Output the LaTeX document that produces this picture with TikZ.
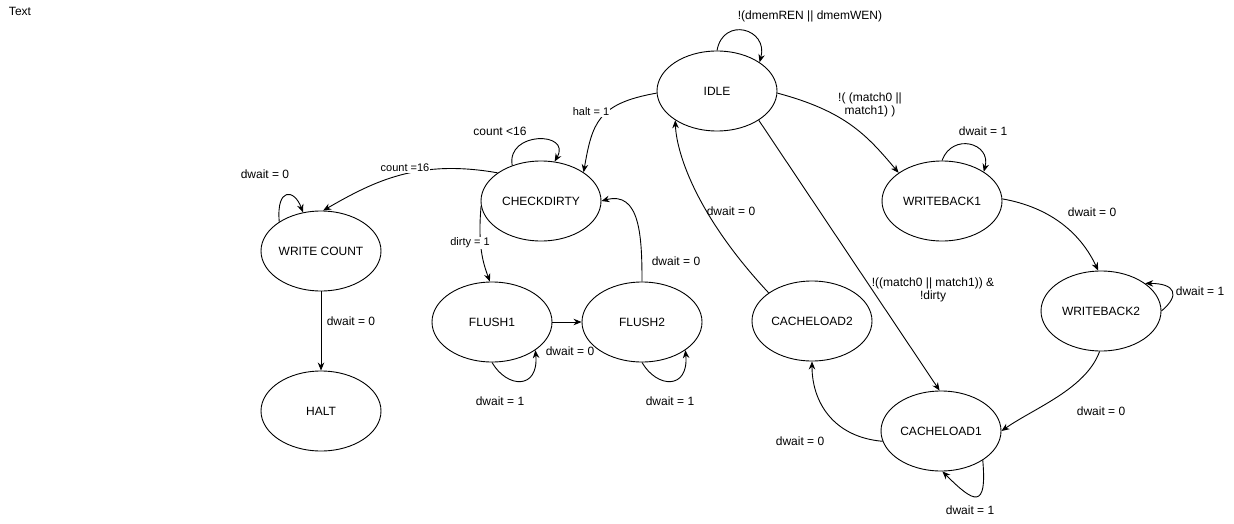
\documentclass[tikz,border=0pt]{standalone}
\usepackage{fontspec}
\setmainfont{Liberation Sans}
\usetikzlibrary{shapes.geometric,arrows.meta}

\tikzset{
    state/.style={draw, ellipse, minimum width=120pt, minimum height=80pt, inner sep=0pt, font=\fontsize{12}{14}\selectfont},
    lbl/.style={inner sep=1pt, font=\fontsize{12}{13.5}\selectfont, align=center},
    lblsmall/.style={inner sep=1pt, font=\fontsize{11}{13}\selectfont, fill=white},
}

\begin{document}
\begin{tikzpicture}[x=1pt, y=-1pt, line width=0.9pt, >={Stealth[length=8pt,width=6.5pt]}]
        \useasboundingbox (0,0) rectangle (1234,524);

        \node[lbl] (title) at (20,11) {Text};

        \node[state] (idle) at (717,91) {IDLE};
        \node[state] (checkdirty) at (541,201) {CHECKDIRTY};
        \node[state] (writecount) at (321,251) {WRITE COUNT};
        \node[state] (halt) at (321,411) {HALT};
        \node[state] (flush1) at (492,322) {FLUSH1};
        \node[state] (flush2) at (642,322) {FLUSH2};
        \node[state] (cacheload2) at (812,321) {CACHELOAD2};
        \node[state] (writeback1) at (942,201) {WRITEBACK1};
        \node[state] (writeback2) at (1101,311) {WRITEBACK2};
        \node[state] (cacheload1) at (941,431) {CACHELOAD1};

        % IDLE
        \draw[->] (idle.90) .. controls +(80:35pt) and +(75:35pt) .. (idle.34);
        \node[lbl] (lIdleLoop) at (810,16) {!(dmemREN || dmemWEN)};

        \draw[->] (idle.182) .. controls +(190:60pt) and +(80:50pt) .. (checkdirty.34);
        \node[lblsmall] (lHalt) at (591,112) {halt = 1};

        \draw[->] (idle.358) .. controls +(-15:70pt) and +(130:50pt) .. (writeback1.147);
        \node[lbl] (lMiss) at (870,105) {!( (match0 ||\\ match1) )};

        \draw[->] (idle.325) -- (cacheload1.92);
        \node[lbl] (lClean) at (933,290) {!((match0 || match1)) \&\\ !dirty};

        % CHECKDIRTY
        \draw[->] (checkdirty.129) .. controls +(100:35pt) and +(60:35pt) .. (checkdirty.71);
        \node[lbl] (lCountLt) at (500,131) {count <16};

        \draw[->] (checkdirty.147) .. controls +(170:80pt) and +(30:60pt) .. (writecount.87);
        \node[lblsmall] (lCountEq) at (405,168) {count =16};

        \draw[->] (checkdirty.185) .. controls +(265:40pt) and +(110:20pt) .. (flush1.93);
        \node[lblsmall] (lDirty) at (470,243) {dirty = 1};

        % WRITE COUNT
        \draw[->] (writecount.145) .. controls +(95:35pt) and +(110:25pt) .. (writecount.115);
        \node[lbl] (lWcLoop) at (265,174) {dwait = 0};

        \draw[->] (writecount.south) -- (halt.north);
        \node[lbl] (lWcHalt) at (351,321) {dwait = 0};

        % FLUSH
        \draw[->] (flush1.east) -- (flush2.west);
        \node[lbl] (lFlush) at (570,351) {dwait = 0};

        \draw[->] (flush1.270) .. controls +(-60:30pt) and +(-85:40pt) .. (flush1.327);
        \node[lbl] (lF1Loop) at (500,401) {dwait = 1};

        \draw[->] (flush2.270) .. controls +(-60:30pt) and +(-85:40pt) .. (flush2.327);
        \node[lbl] (lF2Loop) at (670,401) {dwait = 1};

        \draw[->] (flush2.90) .. controls +(90:45pt) and +(15:40pt) .. (checkdirty.0);
        \node[lbl] (lF2Cd) at (676,261) {dwait = 0};

        % WRITEBACK
        \draw[->] (writeback1.90) .. controls +(70:30pt) and +(75:30pt) .. (writeback1.35);
        \node[lbl] (lWb1Loop) at (983,131) {dwait = 1};

        \draw[->] (writeback1.2) .. controls +(-10:50pt) and +(115:40pt) .. (writeback2.94);
        \node[lbl] (lWb1Wb2) at (1092,212) {dwait = 0};

        \draw[->] (writeback2.0) .. controls +(40:25pt) and +(0:30pt) .. (writeback2.32);
        \node[lbl] (lWb2Loop) at (1200,291) {dwait = 1};

        \draw[->] (writeback2.268) .. controls +(250:40pt) and +(35:40pt) .. (cacheload1.0);
        \node[lbl] (lWb2Cl1) at (1101,411) {dwait = 0};

        % CACHELOAD
        \draw[->] (cacheload1.325) .. controls +(-85:50pt) and +(-45:45pt) .. (cacheload1.272);
        \node[lbl] (lCl1Loop) at (970,510) {dwait = 1};

        \draw[->] (cacheload1.190) .. controls +(175:50pt) and +(270:40pt) .. (cacheload2.270);
        \node[lbl] (lCl1Cl2) at (800,441) {dwait = 0};

        \draw[->] (cacheload2.147) .. controls +(133:110pt) and +(272:30pt) .. (idle.215);
        \node[lbl] (lCl2Idle) at (731,211) {dwait = 0};

    \end{tikzpicture}
\end{document}
